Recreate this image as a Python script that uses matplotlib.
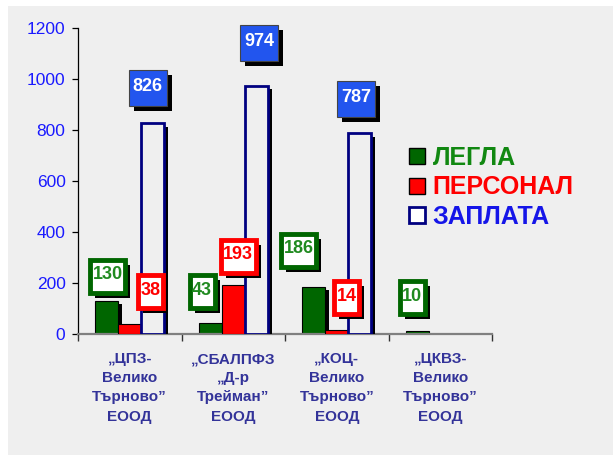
import numpy as np
import matplotlib
matplotlib.use("Agg")
import matplotlib.pyplot as plt
import matplotlib.patheffects as pe
from matplotlib.patches import Rectangle, Patch
from matplotlib.path import Path

plt.rcParams['font.family'] = ['Liberation Sans', 'DejaVu Sans']

# data
categories = ['„ЦПЗ-\nВелико\nТърново”\nЕООД',
              '„СБАЛПФЗ\n„Д-р\nТрейман”\nЕООД',
              '„КОЦ-\nВелико\nТърново”\nЕООД',
              '„ЦКВЗ-\nВелико\nТърново”\nЕООД']
series_names = ['ЛЕГЛА', 'ПЕРСОНАЛ', 'ЗАПЛАТА']
legla = [130, 43, 186, 10]
personal = [38, 193, 14, np.nan]
zaplata = [826, 974, 787, np.nan]
yticks = [0, 200, 400, 600, 800, 1000, 1200]

# label box offsets from bar top (pixels), placed by hand in the original
legla_off = [(1, 26), (-8, 33), (-15, 38), (-5, 35)]
personal_off = [(21, 34), (5, 30), (10, 34), None]
zaplata_off = [(-5, 37), (3, 44), (-4, 36), None]

BG = '#efefef'
GREEN = '#006600'
RED = '#ff0000'
NAVY = '#000080'
BOXBLUE = '#2255ee'

fig = plt.figure(figsize=(6.13, 4.55), dpi=100, facecolor='white')
# grey panel behind everything
fig.add_artist(Rectangle((8 / 613, 0), 1, 1 - 6 / 455, transform=fig.transFigure,
                         facecolor=BG, edgecolor='none', zorder=-10))

ax = fig.add_axes([78 / 613, 1 - 334 / 455, (492 - 78) / 613, (334 - 28) / 455])
ax.set_facecolor('none')

x = np.arange(len(categories))
w = 2 / 9
bar_shadow = [pe.SimplePatchShadow(offset=(3, -2.5), shadow_rgbFace='black', alpha=1.0), pe.Normal()]

b1 = ax.bar(x - w, legla, w, color=GREEN, edgecolor='black', linewidth=0.8, zorder=2)
b2 = ax.bar(x, personal, w, color=RED, edgecolor='black', linewidth=0.8, zorder=3)
b3 = ax.bar(x + w, zaplata, w, color=BG, edgecolor=NAVY, linewidth=2, zorder=4)
for bars in (b1, b2, b3):
    for p in bars:
        p.set_path_effects(bar_shadow)

ax.set_xlim(-0.5, 3.5)
ax.set_ylim(0, 1200)


def make_box(padx, height, dy=1.5):
    # rectangle of fixed outer height around the text, in pixels
    def box(x0, y0, width, h, mutation_size):
        cy = y0 + h / 2 - dy
        xa, xb = x0 - padx, x0 + width + padx
        ya, yb = cy - height / 2, cy + height / 2
        return Path([(xa, ya), (xb, ya), (xb, yb), (xa, yb), (xa, ya)],
                    [Path.MOVETO, Path.LINETO, Path.LINETO, Path.LINETO, Path.CLOSEPOLY])
    return box


box_shadow = [pe.SimplePatchShadow(offset=(3.6, -3.6), shadow_rgbFace='black', alpha=1.0), pe.Normal()]


def label(xpos, val, off, style):
    if off is None or np.isnan(val):
        return
    if style == 'blue':
        bbox = dict(boxstyle=make_box(4, 36), facecolor=BOXBLUE, edgecolor='#444444', linewidth=0.8)
        tcol = 'white'
    else:
        col = GREEN if style == 'green' else RED
        bbox = dict(boxstyle=make_box(2.5, 33), facecolor='white', edgecolor=col, linewidth=3.5)
        tcol = '#1f8a1f' if style == 'green' else RED
    t = ax.annotate(str(int(val)), xy=(xpos, val), xytext=off, textcoords='offset pixels',
                    ha='center', va='center', fontsize=13, fontweight='bold', color=tcol,
                    bbox=bbox, zorder=10, annotation_clip=False)
    t.get_bbox_patch().set_path_effects(box_shadow)


for i in range(len(categories)):
    label(x[i] - w, legla[i], legla_off[i], 'green')
    label(x[i], personal[i], personal_off[i], 'red')
    label(x[i] + w, zaplata[i], zaplata_off[i], 'blue')

# axes styling
for s in ('top', 'right'):
    ax.spines[s].set_visible(False)
ax.spines['left'].set_color('black')
ax.spines['left'].set_linewidth(0.9)
ax.spines['bottom'].set_color('#808080')
ax.spines['bottom'].set_linewidth(1.6)

ax.set_yticks(yticks)
ax.tick_params(axis='y', direction='out', length=4, width=0.9, color='black',
               labelsize=12.5, labelcolor='#1a1aff', pad=5)
ax.set_xticks(x)
ax.set_xticklabels(categories, fontsize=11, fontweight='bold', color='#333399', linespacing=1.47)
ax.tick_params(axis='x', length=0, pad=13)
ax.set_xticks(np.arange(-0.5, 4, 1), minor=True)
ax.tick_params(axis='x', which='minor', length=5, width=1, color='#333333')

handles = [Patch(facecolor=GREEN, edgecolor='black', linewidth=1),
           Patch(facecolor=RED, edgecolor='black', linewidth=1),
           Patch(facecolor='white', edgecolor=NAVY, linewidth=2)]
leg = fig.legend(handles, series_names, loc='center left',
                 bbox_to_anchor=(409 / 613, 1 - 187.5 / 455),
                 frameon=False, borderpad=0, borderaxespad=0,
                 handlelength=0.62, handleheight=0.62, handletextpad=0.33,
                 labelspacing=0.22, prop=dict(size=18, weight='bold'),
                 labelcolor=['#118811', RED, '#1515e8'])

fig.savefig('out.png', dpi=100, facecolor='white')
